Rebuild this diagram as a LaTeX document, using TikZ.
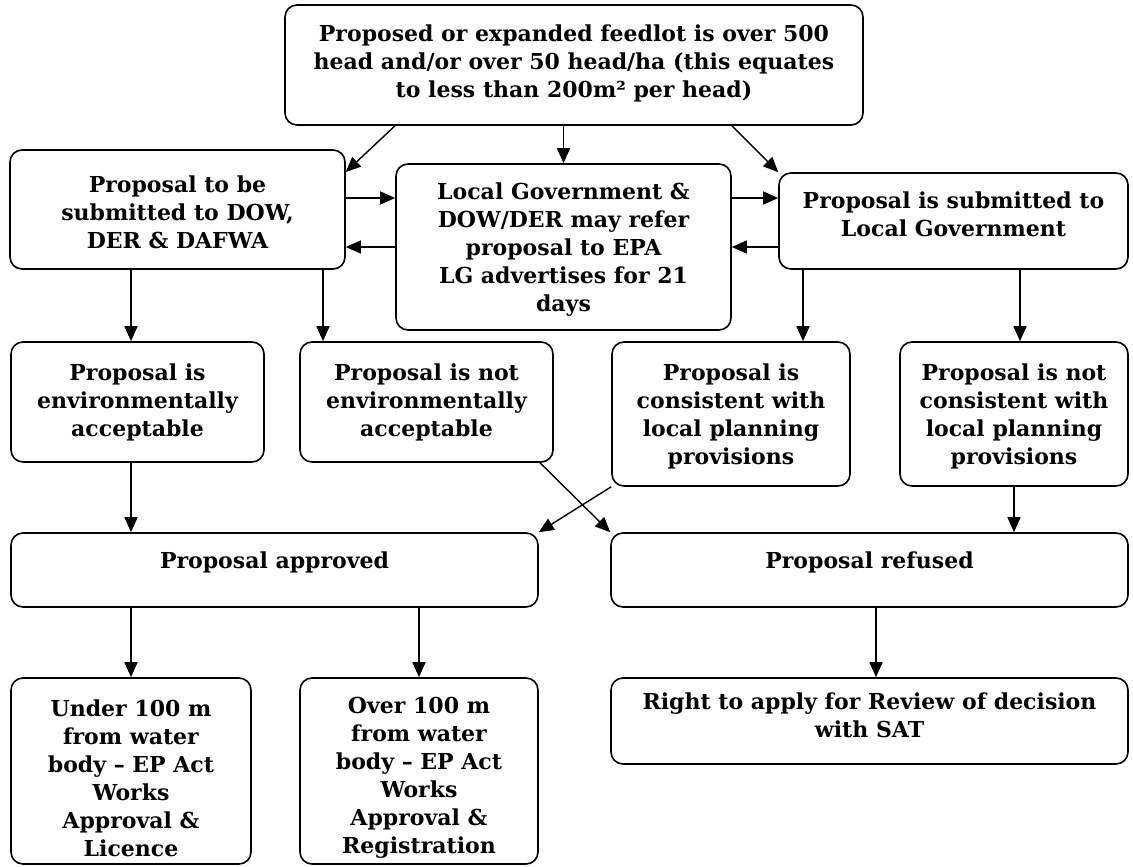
\documentclass[tikz,border=0pt]{standalone}
\usepackage{fontspec}
\setmainfont{DejaVu Serif}
\usetikzlibrary{arrows.meta}
\begin{document}
\begin{tikzpicture}[x=1pt,y=-1pt,
  box/.style={draw, line width=1.6pt, rounded corners=12pt, inner sep=0pt},
  txt/.style={align=center, inner sep=0pt, font=\bfseries\fontsize{22}{28}\selectfont},
  arr/.style={line width=1.4pt, -{Triangle[length=15pt,width=13pt]}}]
\useasboundingbox (0,0) rectangle (1133,867);

\node[box, minimum width=578pt, minimum height=120pt] (top) at (574,65) {};
\node[txt] (topt) at ([yshift=2pt]top.center)
  {Proposed or expanded feedlot is over 500\\head and/or over 50 head/ha (this equates\\to less than 200m² per head)};
\node[box, minimum width=335pt, minimum height=119pt] (A) at (177.5,209.5) {};
\node[txt] (At) at ([yshift=-3pt]A.center)
  {Proposal to be\\submitted to DOW,\\DER \& DAFWA};
\node[box, minimum width=335pt, minimum height=166pt] (C) at (563.5,247) {};
\node[txt] (Ct) at ([yshift=-3pt]C.center)
  {Local Government \&\\DOW/DER may refer\\proposal to EPA\\LG advertises for 21\\days};
\node[box, minimum width=349pt, minimum height=96pt] (B) at (953.5,221) {};
\node[txt] (Bt) at ([yshift=7pt]B.center)
  {Proposal is submitted to\\Local Government};
\node[box, minimum width=253pt, minimum height=120pt] (D) at (137.5,402) {};
\node[txt] (Dt) at (D.center)
  {Proposal is\\environmentally\\acceptable};
\node[box, minimum width=253pt, minimum height=120pt] (E) at (426.5,402) {};
\node[txt] (Et) at (E.center)
  {Proposal is not\\environmentally\\acceptable};
\node[box, minimum width=238pt, minimum height=144pt] (F) at (731,414) {};
\node[txt] (Ft) at ([yshift=-2pt]F.center)
  {Proposal is\\consistent with\\local planning\\provisions};
\node[box, minimum width=228pt, minimum height=144pt] (G) at (1014,414) {};
\node[txt] (Gt) at ([yshift=-2pt]G.center)
  {Proposal is not\\consistent with\\local planning\\provisions};
\node[box, minimum width=527pt, minimum height=74pt] (H) at (274.5,570) {};
\node[txt] (Ht) at ([yshift=8pt]H.center) {Proposal approved};
\node[box, minimum width=517pt, minimum height=74pt] (I) at (869.5,570) {};
\node[txt] (It) at ([yshift=8pt]I.center) {Proposal refused};
\node[box, minimum width=240pt, minimum height=186pt] (J) at (131,771) {};
\node[txt] (Jt) at ([yshift=-7pt]J.center)
  {Under 100 m\\from water\\body – EP Act\\Works\\Approval \&\\Licence};
\node[box, minimum width=238pt, minimum height=186pt] (K) at (419,771) {};
\node[txt] (Kt) at ([yshift=-7pt]K.center)
  {Over 100 m\\from water\\body – EP Act\\Works\\Approval \&\\Registration};
\node[box, minimum width=517pt, minimum height=86pt] (L) at (869.5,721) {};
\node[txt] (Lt) at ([yshift=6pt]L.center)
  {Right to apply for Review of decision\\with SAT};

\coordinate (xa) at (131,0);
\coordinate (xb) at (323,0);
\coordinate (xc) at (803,0);
\coordinate (xd) at (1020,0);
\coordinate (xe) at (419,0);
\coordinate (xf) at (876,0);
\coordinate (xl) at (395,0);
\coordinate (xr) at (732,0);
\coordinate (xs) at (540,0);
\coordinate (ye1) at (0,198);
\coordinate (ye2) at (0,247);
\coordinate (yd) at (0,172);

\draw[arr] (top.south -| xl) -- (A.east |- yd);
\draw[arr] (top.south -| C.north) -- (C.north);
\draw[arr] (top.south -| xr) -- (B.north west);
\draw[arr] (A.east |- ye1) -- (C.west |- ye1);
\draw[arr] (C.west |- ye2) -- (A.east |- ye2);
\draw[arr] (C.east |- ye1) -- (B.west |- ye1);
\draw[arr] (B.west |- ye2) -- (C.east |- ye2);
\draw[arr] (A.south -| xa) -- (D.north -| xa);
\draw[arr] (A.south -| xb) -- (E.north -| xb);
\draw[arr] (B.south -| xc) -- (F.north -| xc);
\draw[arr] (B.south -| xd) -- (G.north -| xd);
\draw[arr] (D.south -| xa) -- (H.north -| xa);
\draw[arr] (E.south -| xs) -- (I.north west);
\draw[arr] (F.south west) -- (H.north east);
\draw[arr] (G.south) -- (G.south |- I.north);
\draw[arr] (H.south -| xa) -- (J.north -| xa);
\draw[arr] (H.south -| xe) -- (K.north);
\draw[arr] (I.south -| xf) -- (L.north -| xf);
\end{tikzpicture}
\end{document}
